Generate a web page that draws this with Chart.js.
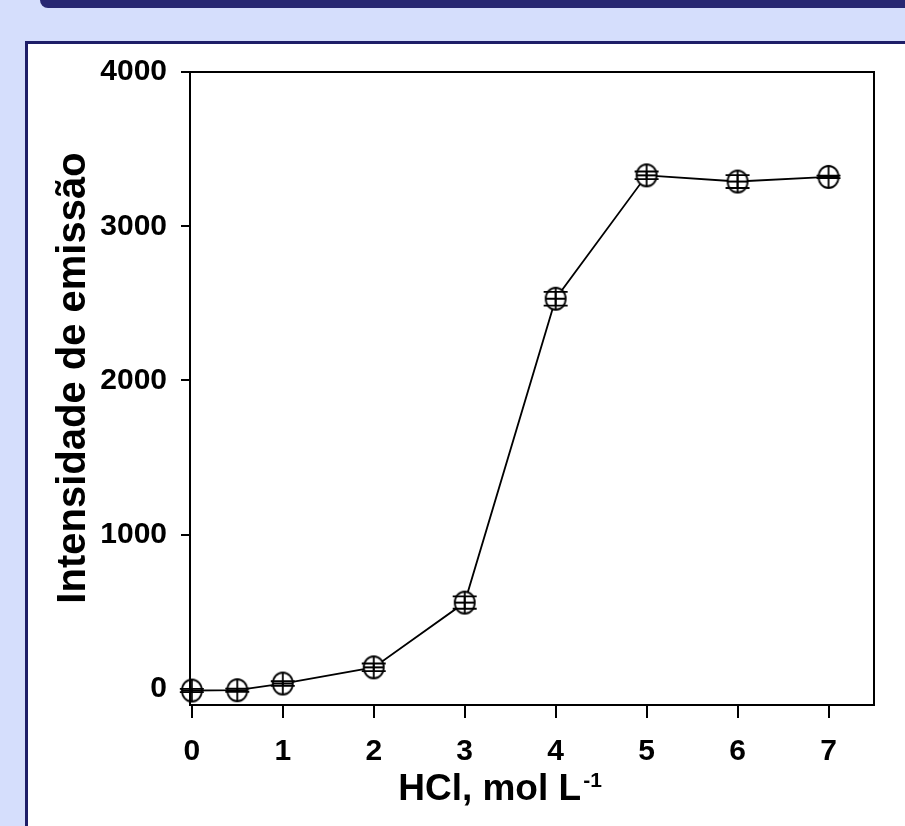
<!DOCTYPE html>
<html><head><meta charset="utf-8">
<script src="https://cdn.jsdelivr.net/npm/chart.js@4.4.1/dist/chart.umd.min.js"></script>
<style>
html,body{margin:0;padding:0;}
body{width:905px;height:826px;overflow:hidden;background:#d5defc;position:relative;font-family:"Liberation Sans",Arial,sans-serif;}
#bar{position:absolute;left:40px;top:0;width:880px;height:8px;background:#272772;border-bottom-left-radius:12px;}
#panel{position:absolute;left:25px;top:41px;width:900px;height:800px;background:#fff;border:3px solid #1e1e68;box-sizing:border-box;}
#c{position:absolute;left:0;top:0;}
</style></head><body>
<div id="bar"></div><div id="panel"></div>
<canvas id="c" width="905" height="826"></canvas>
<script>
const hclConcentration = [0, 0.5, 1, 2, 3, 4, 5, 6, 7];
const emissionIntensity = [-10, -8, 35, 140, 560, 2530, 3330, 3290, 3320];
const emissionError = [10, 10, 15, 25, 40, 45, 25, 42, 8];
const xTickValues = [0, 1, 2, 3, 4, 5, 6, 7];
const yTickValues = [0, 1000, 2000, 3000, 4000];
const xTitle = 'HCl, mol L';
const xTitleSup = '-1';
const yTitle = 'Intensidade de emissão';

const FONT = '"Liberation Sans", Arial, sans-serif';

function makeMarker(){
  const c = document.createElement('canvas');
  c.width = 26; c.height = 26;
  const g = c.getContext('2d');
  g.fillStyle = '#fff'; g.strokeStyle = '#000'; g.lineWidth = 1.8;
  g.beginPath(); g.ellipse(13, 13, 10, 11, 0, 0, Math.PI * 2); g.fill(); g.stroke();
  g.beginPath(); g.moveTo(13, 2); g.lineTo(13, 24); g.moveTo(3, 13); g.lineTo(23, 13); g.stroke();
  return c;
}

const errorBars = {
  id: 'errorBars',
  afterDatasetsDraw(chart){
    const {ctx, scales: {x, y}} = chart;
    ctx.save(); ctx.strokeStyle = '#000'; ctx.lineWidth = 1.8;
    hclConcentration.forEach((xv, i) => {
      const px = x.getPixelForValue(xv);
      const top = y.getPixelForValue(emissionIntensity[i] + emissionError[i]);
      const bot = y.getPixelForValue(emissionIntensity[i] - emissionError[i]);
      ctx.beginPath();
      ctx.moveTo(px, top); ctx.lineTo(px, bot);
      ctx.moveTo(px - 12, top); ctx.lineTo(px + 12, top);
      ctx.moveTo(px - 12, bot); ctx.lineTo(px + 12, bot);
      ctx.stroke();
    });
    ctx.restore();
  }
};

const frameAndTitles = {
  id: 'frameAndTitles',
  afterDraw(chart){
    const {ctx, chartArea: a} = chart;
    ctx.save();
    ctx.strokeStyle = '#000'; ctx.lineWidth = 2;
    ctx.strokeRect(a.left, a.top, a.right - a.left, a.bottom - a.top);
    ctx.fillStyle = '#000';
    ctx.font = 'bold 37px ' + FONT;
    ctx.textBaseline = 'alphabetic'; ctx.textAlign = 'left';
    const w1 = ctx.measureText(xTitle).width;
    ctx.font = 'bold 21px ' + FONT;
    const w2 = ctx.measureText(xTitleSup).width;
    const startX = 500 - (w1 + 2 + w2) / 2;
    ctx.font = 'bold 37px ' + FONT;
    ctx.fillText(xTitle, startX, 800);
    ctx.font = 'bold 21px ' + FONT;
    ctx.fillText(xTitleSup, startX + w1 + 2, 787);
    ctx.translate(85, 378);
    ctx.rotate(-Math.PI / 2);
    ctx.font = 'bold 40px ' + FONT;
    ctx.textAlign = 'center';
    ctx.fillText(yTitle, 0, 0);
    ctx.restore();
  }
};

const tickFont = {family: FONT, size: 30, weight: 'bold'};

new Chart(document.getElementById('c'), {
  type: 'scatter',
  data: {
    datasets: [{
      data: hclConcentration.map((x, i) => ({x: x, y: emissionIntensity[i]})),
      showLine: true,
      borderColor: '#000',
      borderWidth: 1.8,
      pointStyle: makeMarker(),
      pointRadius: 11,
      tension: 0,
      clip: false
    }]
  },
  options: {
    responsive: false,
    animation: false,
    events: [],
    layout: {padding: {left: 0, top: 72, right: 31, bottom: 0}},
    plugins: {legend: {display: false}, tooltip: {enabled: false}},
    scales: {
      x: {
        type: 'linear', min: -0.02, max: 7.5,
        afterBuildTicks(s){ s.ticks = xTickValues.map(v => ({value: v})); },
        afterFit(s){ s.height = 121; },
        grid: {drawOnChartArea: false, drawTicks: true, tickLength: 13, color: '#000', lineWidth: 2},
        border: {display: true, color: '#000', width: 2},
        ticks: {color: '#000', font: tickFont, padding: 16, maxRotation: 0, autoSkip: false,
                callback: v => String(v)}
      },
      y: {
        type: 'linear', min: -104, max: 4000,
        afterBuildTicks(s){ s.ticks = yTickValues.map(v => ({value: v})); },
        afterFit(s){ s.width = 190; },
        grid: {drawOnChartArea: false, drawTicks: true, tickLength: 9, color: '#000', lineWidth: 2},
        border: {display: true, color: '#000', width: 2},
        ticks: {color: '#000', font: tickFont, padding: 14, autoSkip: false,
                callback: v => String(v)}
      }
    }
  },
  plugins: [errorBars, frameAndTitles]
});
</script>
</body></html>
